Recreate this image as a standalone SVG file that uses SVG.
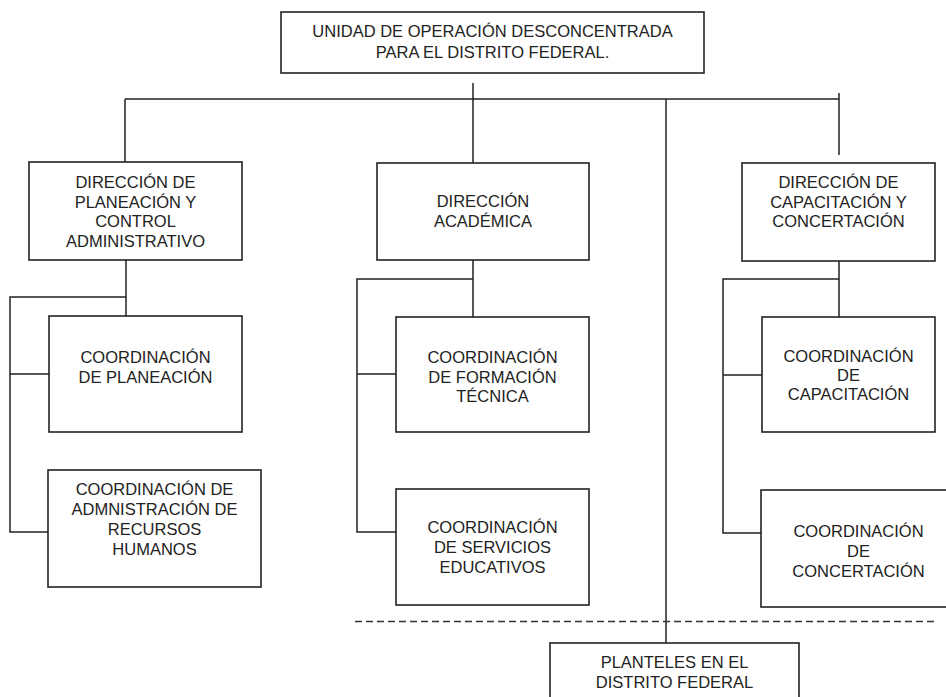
<svg xmlns="http://www.w3.org/2000/svg" width="946" height="697" viewBox="0 0 946 697">
<style>
.box{fill:#fff;stroke:#222;stroke-width:1.6}
.ln{fill:none;stroke:#222;stroke-width:1.5}
.dash{fill:none;stroke:#333;stroke-width:1.5;stroke-dasharray:7 4}
text{font-family:"Liberation Sans",Arial,sans-serif;font-size:16.5px;fill:#222;text-anchor:middle}
</style>
<rect width="946" height="697" fill="#fff"/>
<g id="connectors">
<path class="ln" d="M473 83V163"/>
<path class="ln" d="M125 99H839"/>
<path class="ln" d="M125 99V162"/>
<path class="ln" d="M839 93V155"/>
<path class="ln" d="M666 99V643"/>
<path class="ln" d="M126 260V316M126 297H10V532H48M10 374H49"/>
<path class="ln" d="M473 260V317M473 279H357V532H396M357 374H396"/>
<path class="ln" d="M839 261V317M839 279H723V533H761M723 375H762"/>
<path class="dash" d="M355 621.5H935"/>
</g>
<g id="unidad">
<rect class="box" x="281" y="12" width="423" height="61"/>
<text x="492.5" y="37">UNIDAD DE OPERACIÓN DESCONCENTRADA</text>
<text x="492.5" y="58">PARA EL DISTRITO FEDERAL.</text>
</g>
<g id="dir-planeacion">
<rect class="box" x="29" y="162" width="213" height="98"/>
<text x="135.5" y="188">DIRECCIÓN DE</text>
<text x="135.5" y="207.5">PLANEACIÓN Y</text>
<text x="135.5" y="227">CONTROL</text>
<text x="135.5" y="247">ADMINISTRATIVO</text>
</g>
<g id="coord-planeacion">
<rect class="box" x="49" y="316" width="193" height="116"/>
<text x="145.5" y="363">COORDINACIÓN</text>
<text x="145.5" y="382.5">DE PLANEACIÓN</text>
</g>
<g id="coord-admin">
<rect class="box" x="48" y="470" width="213" height="117"/>
<text x="154.5" y="495">COORDINACIÓN DE</text>
<text x="154.5" y="515">ADMNISTRACIÓN DE</text>
<text x="154.5" y="535">RECURSOS</text>
<text x="154.5" y="555">HUMANOS</text>
</g>
<g id="dir-academica">
<rect class="box" x="377" y="163" width="212" height="97"/>
<text x="483" y="207">DIRECCIÓN</text>
<text x="483" y="227">ACADÉMICA</text>
</g>
<g id="coord-formacion">
<rect class="box" x="396" y="317" width="193" height="115"/>
<text x="492.5" y="363">COORDINACIÓN</text>
<text x="492.5" y="382.5">DE FORMACIÓN</text>
<text x="492.5" y="402">TÉCNICA</text>
</g>
<g id="coord-servicios">
<rect class="box" x="396" y="489" width="193" height="116"/>
<text x="492.5" y="533">COORDINACIÓN</text>
<text x="492.5" y="553">DE SERVICIOS</text>
<text x="492.5" y="573">EDUCATIVOS</text>
</g>
<g id="dir-capacitacion">
<rect class="box" x="742" y="163" width="193" height="98"/>
<text x="838.5" y="188">DIRECCIÓN DE</text>
<text x="838.5" y="207.5">CAPACITACIÓN Y</text>
<text x="838.5" y="227">CONCERTACIÓN</text>
</g>
<g id="coord-capacitacion">
<rect class="box" x="762" y="317" width="173" height="115"/>
<text x="848.5" y="362">COORDINACIÓN</text>
<text x="848.5" y="381">DE</text>
<text x="848.5" y="400">CAPACITACIÓN</text>
</g>
<g id="coord-concertacion">
<rect class="box" x="761" y="490" width="195" height="117"/>
<text x="858.5" y="537">COORDINACIÓN</text>
<text x="858.5" y="557">DE</text>
<text x="858.5" y="577">CONCERTACIÓN</text>
</g>
<g id="planteles">
<rect class="box" x="550" y="643" width="249" height="70"/>
<text x="674.5" y="668">PLANTELES EN EL</text>
<text x="674.5" y="688">DISTRITO FEDERAL</text>
</g>
</svg>
